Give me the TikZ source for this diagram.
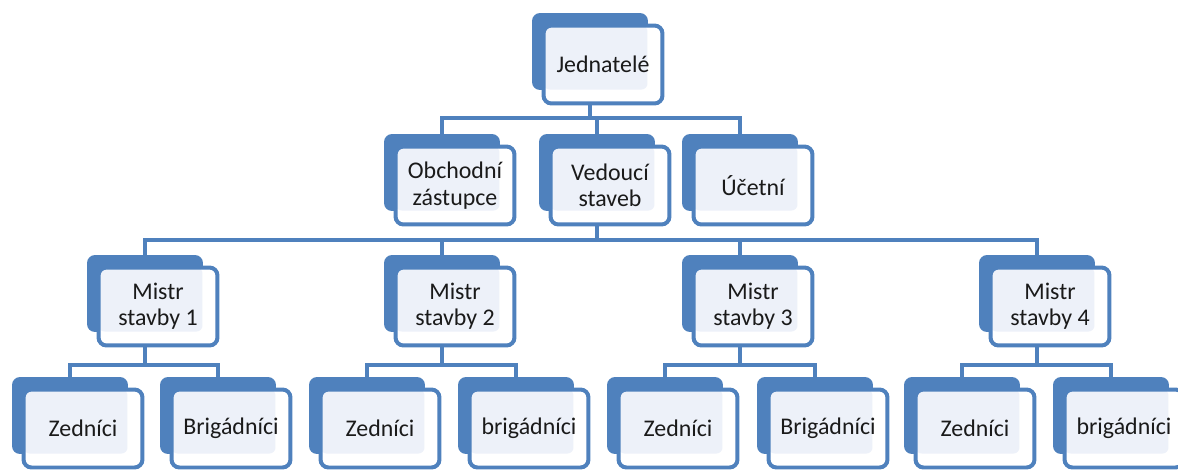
\documentclass[tikz,border=0pt]{standalone}
\usepackage{fontspec}
\setmainfont{Carlito}
\usetikzlibrary{calc,backgrounds}

\definecolor{accent}{HTML}{4F81BD}
\definecolor{lightfill}{HTML}{EDF1F9}
\definecolor{ink}{HTML}{1A1A1A}

\begin{document}
\begin{tikzpicture}[
	  x=0.02cm, y=-0.02cm,
	  every node/.style={font=\fontsize{13.6}{15}\selectfont, text=ink},
	  backbox/.style={
		  rectangle,
		  rounded corners=0.16cm,
		  fill=accent,
		  minimum width=2.32cm,
		  minimum height=1.54cm
	  },
	  frontbox/.style={
		  rectangle,
		  rounded corners=0.16cm,
		  draw=accent,
		  line width=0.08cm,
		  fill=white,
		  minimum width=2.38cm,
		  minimum height=1.56cm,
		  align=center,
		  path picture={
			  \fill[lightfill, rounded corners=0.12cm]
				  (path picture bounding box.north west) rectangle
				  ([xshift=-0.3cm,yshift=0.28cm]path picture bounding box.south east);
		  }
	  },
	  link/.style={
		  draw=accent,
		  line width=0.08cm
	  }
  ]

  \useasboundingbox (0,0) rectangle (1178,471);

  % Back plates
  \node [backbox] (jedB) at (590,51.5) {};
  \node [backbox] (obB) at (442,172.5) {};
  \node [backbox] (vedB) at (597,172.5) {};
  \node [backbox] (ucB) at (740,172.5) {};
  \node [backbox] (m1B) at (145,293.5) {};
  \node [backbox] (m2B) at (442,293.5) {};
  \node [backbox] (m3B) at (740,293.5) {};
  \node [backbox] (m4B) at (1037,293.5) {};
  \node [backbox] (z1B) at (70,415.5) {};
  \node [backbox] (b1B) at (218,415.5) {};
  \node [backbox] (z2B) at (367,415.5) {};
  \node [backbox] (b2B) at (516,415.5) {};
  \node [backbox] (z3B) at (665,415.5) {};
  \node [backbox] (b3B) at (815,415.5) {};
  \node [backbox] (z4B) at (962,415.5) {};
  \node [backbox] (b4B) at (1111,415.5) {};

  % Front boxes
  \node [frontbox] (jed) at ($(jedB)+(13,13)$) {Jednatelé};
  \node [frontbox] (ob) at ($(obB)+(13,13)$) {Obchodní\\zástupce};
  \node [frontbox] (ved) at ($(vedB)+(13,13)$) {Vedoucí\\staveb};
  \node [frontbox] (uc) at ($(ucB)+(13,13)$) {Účetní};
  \node [frontbox] (m1) at ($(m1B)+(13,13)$) {Mistr\\stavby 1};
  \node [frontbox] (m2) at ($(m2B)+(13,13)$) {Mistr\\stavby 2};
  \node [frontbox] (m3) at ($(m3B)+(13,13)$) {Mistr\\stavby 3};
  \node [frontbox] (m4) at ($(m4B)+(13,13)$) {Mistr\\stavby 4};
  \node [frontbox] (z1) at ($(z1B)+(13,13)$) {Zedníci};
  \node [frontbox] (b1) at ($(b1B)+(13,13)$) {Brigádníci};
  \node [frontbox] (z2) at ($(z2B)+(13,13)$) {Zedníci};
  \node [frontbox] (b2) at ($(b2B)+(13,13)$) {brigádníci};
  \node [frontbox] (z3) at ($(z3B)+(13,13)$) {Zedníci};
  \node [frontbox] (b3) at ($(b3B)+(13,13)$) {Brigádníci};
  \node [frontbox] (z4) at ($(z4B)+(13,13)$) {Zedníci};
  \node [frontbox] (b4) at ($(b4B)+(13,13)$) {brigádníci};

  % Connecting lines
  \begin{scope}[on background layer]
    \draw[link] (jedB.center) -- ++(0,66.5) -| (obB.center);
    \draw[link] (jedB.center) -- ++(0,66.5) -| (vedB.center);
    \draw[link] (jedB.center) -- ++(0,66.5) -| (ucB.center);
    \draw[link] (vedB.center) -- ++(0,67.5) -| (m1B.center);
    \draw[link] (vedB.center) -- ++(0,67.5) -| (m2B.center);
    \draw[link] (vedB.center) -- ++(0,67.5) -| (m3B.center);
    \draw[link] (vedB.center) -- ++(0,67.5) -| (m4B.center);
    \draw[link] (m1B.center) -- ++(0,71.5) -| (z1B.center);
    \draw[link] (m1B.center) -- ++(0,71.5) -| (b1B.center);
    \draw[link] (m2B.center) -- ++(0,71.5) -| (z2B.center);
    \draw[link] (m2B.center) -- ++(0,71.5) -| (b2B.center);
    \draw[link] (m3B.center) -- ++(0,71.5) -| (z3B.center);
    \draw[link] (m3B.center) -- ++(0,71.5) -| (b3B.center);
    \draw[link] (m4B.center) -- ++(0,71.5) -| (z4B.center);
    \draw[link] (m4B.center) -- ++(0,71.5) -| (b4B.center);
  \end{scope}

\end{tikzpicture}
\end{document}
